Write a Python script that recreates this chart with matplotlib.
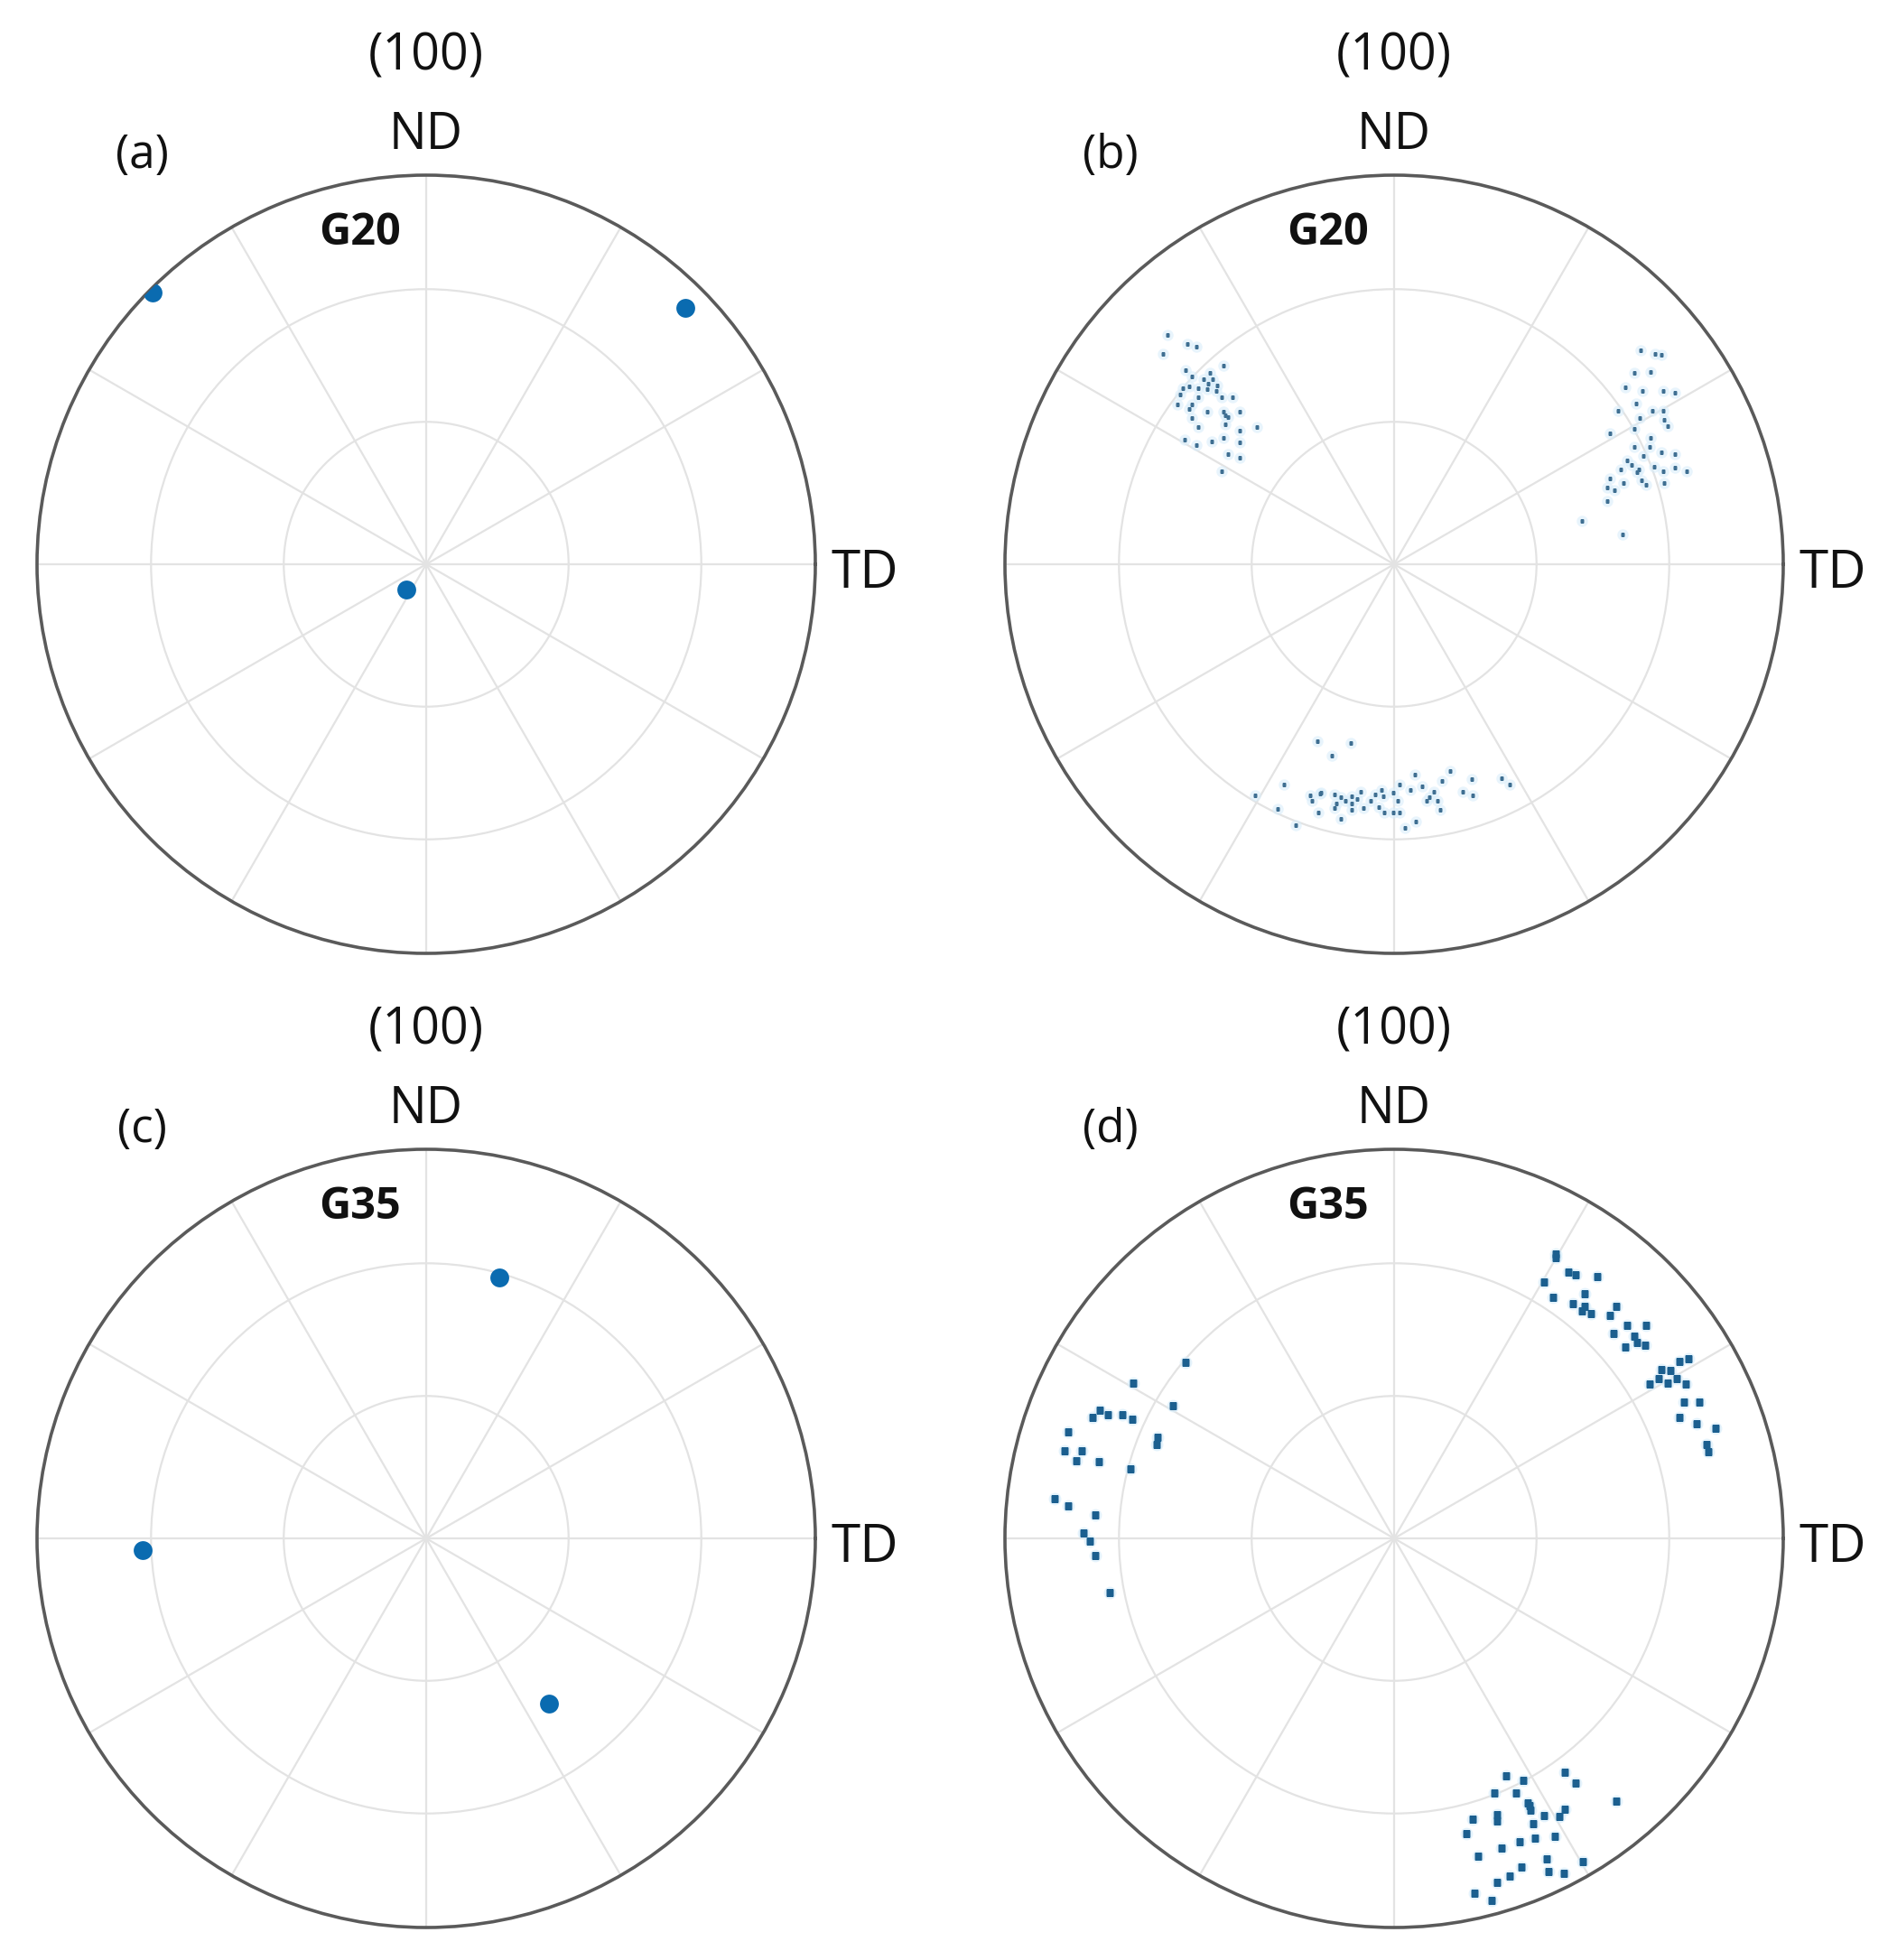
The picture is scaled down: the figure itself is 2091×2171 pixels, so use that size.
import numpy as np
import matplotlib
matplotlib.use("Agg")
import matplotlib.pyplot as plt

plt.rcParams['font.family'] = ['Open Sans', 'DejaVu Sans']

# pole figure coordinates (equal-area projection, unit = outer circle)
# (a) G20, single grain
a_x = [-0.703, 0.667, -0.050]
a_y = [0.698, 0.658, -0.065]

# (b) G20, scattered orientations
b_x = [-0.582, -0.531, -0.508, -0.593, -0.535, -0.520, -0.473, -0.466, -0.439, -0.543,
       -0.527, -0.504, -0.481, -0.458, -0.442, -0.415, -0.558, -0.520, -0.481, -0.439,
       -0.427, -0.396, -0.520, -0.504, -0.435, -0.396, -0.353, -0.539, -0.508, -0.469,
       -0.439, -0.396, -0.427, -0.396, -0.442, -0.527, -0.504, -0.477, -0.489, -0.454,
       -0.551, -0.435,
       0.633, 0.671, 0.687, 0.617, 0.660, 0.594, 0.639, 0.691, 0.722, 0.621,
       0.575, 0.664, 0.691, 0.631, 0.694, 0.702, 0.555, 0.617, 0.660, 0.617,
       0.657, 0.687, 0.722, 0.640, 0.598, 0.582, 0.629, 0.668, 0.691, 0.722,
       0.752, 0.555, 0.590, 0.636, 0.648, 0.694, 0.548, 0.567, 0.548, 0.482,
       0.586, 0.625, 0.610,
       -0.197, -0.111, -0.160, -0.357, -0.282, -0.299, -0.253, -0.216, -0.212, -0.191,
       -0.195, -0.152, -0.137, -0.125, -0.148, -0.110, -0.152, -0.137, -0.110, -0.087,
       -0.079, -0.060, -0.032, -0.029, -0.040, -0.025, -0.002, 0.014, 0.014, 0.041,
       0.010, 0.053, 0.072, 0.029, 0.056, 0.084, 0.103, 0.122, 0.111, 0.118,
       0.144, 0.176, 0.200, 0.203, 0.277, 0.296, -0.187, -0.110, -0.094, -0.048,
       -0.002, 0.091]
b_y = [0.590, 0.565, 0.559, 0.540, 0.499, 0.483, 0.491, 0.476, 0.510, 0.452,
       0.456, 0.452, 0.449, 0.445, 0.429, 0.429, 0.410, 0.410, 0.391, 0.391,
       0.379, 0.392, 0.375, 0.352, 0.360, 0.344, 0.352, 0.321, 0.306, 0.315,
       0.325, 0.313, 0.284, 0.274, 0.240, 0.398, 0.429, 0.464, 0.476, 0.460,
       0.437, 0.383,
       0.549, 0.541, 0.539, 0.491, 0.495, 0.454, 0.446, 0.445, 0.441, 0.414,
       0.394, 0.394, 0.394, 0.375, 0.371, 0.356, 0.336, 0.348, 0.325, 0.302,
       0.302, 0.288, 0.284, 0.278, 0.267, 0.244, 0.244, 0.251, 0.240, 0.248,
       0.240, 0.220, 0.209, 0.216, 0.205, 0.209, 0.197, 0.190, 0.162, 0.111,
       0.077, 0.236, 0.255,
       -0.454, -0.459, -0.493, -0.594, -0.566, -0.628, -0.671, -0.594, -0.609, -0.589,
       -0.637, -0.592, -0.599, -0.609, -0.615, -0.615, -0.626, -0.655, -0.630, -0.584,
       -0.626, -0.609, -0.580, -0.596, -0.623, -0.638, -0.638, -0.638, -0.566, -0.580,
       -0.607, -0.541, -0.570, -0.677, -0.661, -0.609, -0.584, -0.557, -0.609, -0.630,
       -0.532, -0.585, -0.553, -0.594, -0.549, -0.565, -0.586, -0.596, -0.603, -0.592,
       -0.588, -0.599]

# (c) G35, single grain
c_x = [0.187, -0.728, 0.316]
c_y = [0.671, -0.031, -0.425]

# (d) G35, scattered orientations
d_x = [0.416, 0.416, 0.447, 0.466, 0.523, 0.385, 0.408, 0.459, 0.490, 0.490,
       0.505, 0.482, 0.571, 0.555, 0.563, 0.598, 0.648, 0.594, 0.625, 0.644,
       0.617, 0.756, 0.733, 0.687, 0.710, 0.679, 0.656, 0.702, 0.726, 0.749,
       0.745, 0.784, 0.733, 0.778, 0.826, 0.803, 0.807,
       -0.537, -0.671, -0.568, -0.775, -0.756, -0.736, -0.698, -0.674, -0.837, -0.848,
       -0.802, -0.817, -0.759, -0.609, -0.611, -0.677, -0.872, -0.838, -0.769, -0.798,
       -0.781, -0.769, -0.732,
       0.288, 0.331, 0.439, 0.466, 0.571, 0.258, 0.314, 0.343, 0.350, 0.265,
       0.265, 0.203, 0.186, 0.385, 0.424, 0.439, 0.358, 0.362, 0.323, 0.277,
       0.412, 0.215, 0.393, 0.397, 0.436, 0.486, 0.327, 0.296, 0.265, 0.207,
       0.250, 0.347]
d_y = [0.732, 0.721, 0.684, 0.678, 0.674, 0.659, 0.620, 0.603, 0.628, 0.597,
       0.578, 0.585, 0.597, 0.574, 0.527, 0.547, 0.547, 0.493, 0.504, 0.497,
       0.520, 0.462, 0.454, 0.435, 0.431, 0.411, 0.396, 0.400, 0.411, 0.396,
       0.351, 0.351, 0.311, 0.294, 0.284, 0.241, 0.222,
       0.452, 0.400, 0.342, 0.311, 0.330, 0.317, 0.317, 0.307, 0.274, 0.226,
       0.226, 0.199, 0.197, 0.261, 0.241, 0.179, 0.102, 0.083, 0.060, 0.013,
       -0.006, -0.045, -0.139,
       -0.610, -0.621, -0.602, -0.629, -0.675, -0.654, -0.654, -0.679, -0.698, -0.710,
       -0.726, -0.722, -0.758, -0.712, -0.714, -0.695, -0.733, -0.770, -0.780, -0.795,
       -0.766, -0.817, -0.824, -0.857, -0.860, -0.830, -0.845, -0.868, -0.884, -0.911,
       -0.930, -0.687]

panel_labels = ['(a)', '(b)', '(c)', '(d)']
grain_labels = ['G20', 'G20', 'G35', 'G35']
ring_levels = [0.366, 0.707]   # 30 and 60 deg in equal-area projection

BLUE = '#0a6bb0'
INK = '#111111'

fig = plt.figure(figsize=(20.91, 21.71), dpi=100)

W, H = 862 / 2091, 862 / 2171
positions = [(41 / 2091, 1115 / 2171), (1113 / 2091, 1115 / 2171),
             (41 / 2091, 36 / 2171), (1113 / 2091, 36 / 2171)]

panels = [(a_x, a_y, 'big'), (b_x, b_y, 'tiny'), (c_x, c_y, 'big'), (d_x, d_y, 'small')]

for i, ((px, py, kind), (left, bottom)) in enumerate(zip(panels, positions)):
    ax = fig.add_axes([left, bottom, W, H], projection='polar')
    px = np.asarray(px)
    py = np.asarray(py)
    theta = np.arctan2(py, px)
    r = np.hypot(px, py)

    if kind == 'big':
        ax.plot(theta, r, 'o', ms=15, color=BLUE, mec='none', zorder=3)
    elif kind == 'tiny':
        ax.plot(theta, r, 'o', ms=9, color='#d9eefb', mec='none', alpha=0.6, zorder=2)
        ax.plot(theta, r, 's', ms=3.2, color='#3f6f92', mec='none', zorder=3)
    else:
        ax.plot(theta, r, 'o', ms=10, color='#d4ecfa', mec='none', alpha=0.6, zorder=2)
        ax.plot(theta, r, 's', ms=5.2, color='#1b5f8f', mec='none', zorder=3)

    ax.set_ylim(0, 1)
    ax.set_rticks(ring_levels)
    ax.set_yticklabels([])
    ax.set_thetagrids(np.arange(0, 360, 30), labels=[])
    ax.grid(True, color='#e3e3e3', lw=1.6)
    ax.spines['polar'].set_color('#5a5a5a')
    ax.spines['polar'].set_linewidth(2.6)
    ax.tick_params(length=0)

    ax.text(0.5, 1.152, '(100)', transform=ax.transAxes, ha='center', va='center',
            fontsize=40, color=INK)
    ax.text(0.5, 1.050, 'ND', transform=ax.transAxes, ha='center', va='center',
            fontsize=40, color=INK)
    ax.text(1.020, 0.488, 'TD', transform=ax.transAxes, ha='left', va='center',
            fontsize=42, color=INK)
    ax.text(0.135, 1.025, panel_labels[i], transform=ax.transAxes, ha='center',
            va='center', fontsize=37, color=INK)
    ax.text(0.415, 0.925, grain_labels[i], transform=ax.transAxes, ha='center',
            va='center', fontsize=35, fontweight='bold', color=INK)

fig.savefig('out.png', dpi=100, facecolor='white')
